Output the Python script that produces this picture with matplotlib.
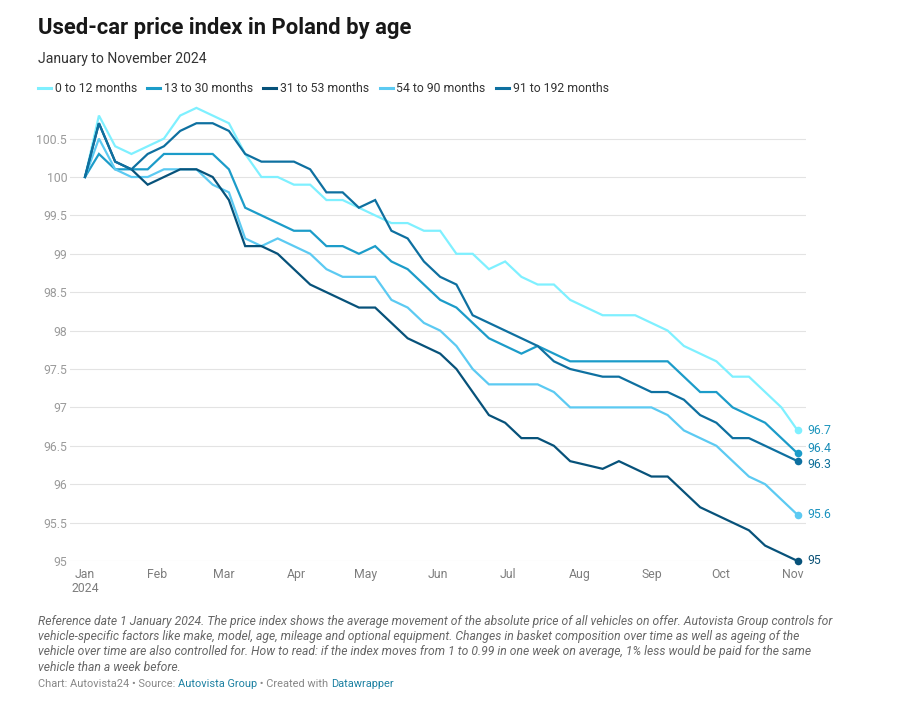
import matplotlib
matplotlib.use("Agg")
import matplotlib.pyplot as plt
import matplotlib.dates as mdates
import pandas as pd
import numpy as np

plt.rcParams['font.family'] = ['Roboto', 'DejaVu Sans']

# ---- data ----
dates = [pd.Timestamp('2024-01-01')] + list(pd.date_range('2024-01-07', '2024-11-03', freq='7D'))

series_names = ["0 to 12 months", "13 to 30 months", "31 to 53 months",
                "54 to 90 months", "91 to 192 months"]

s_0_12 = [100, 100.8, 100.4, 100.3, 100.4, 100.5, 100.8, 100.9, 100.8, 100.7,
          100.3, 100.0, 100.0, 99.9, 99.9, 99.7, 99.7, 99.6, 99.5, 99.4,
          99.4, 99.3, 99.3, 99.0, 99.0, 98.8, 98.9, 98.7, 98.6, 98.6,
          98.4, 98.3, 98.2, 98.2, 98.2, 98.1, 98.0, 97.8, 97.7, 97.6,
          97.4, 97.4, 97.2, 97.0, 96.7]
s_13_30 = [100, 100.3, 100.1, 100.1, 100.1, 100.3, 100.3, 100.3, 100.3, 100.1,
           99.6, 99.5, 99.4, 99.3, 99.3, 99.1, 99.1, 99.0, 99.1, 98.9,
           98.8, 98.6, 98.4, 98.3, 98.1, 97.9, 97.8, 97.7, 97.8, 97.7,
           97.6, 97.6, 97.6, 97.6, 97.6, 97.6, 97.6, 97.4, 97.2, 97.2,
           97.0, 96.9, 96.8, 96.6, 96.4]
s_31_53 = [100, 100.7, 100.2, 100.1, 99.9, 100.0, 100.1, 100.1, 100.0, 99.7,
           99.1, 99.1, 99.0, 98.8, 98.6, 98.5, 98.4, 98.3, 98.3, 98.1,
           97.9, 97.8, 97.7, 97.5, 97.2, 96.9, 96.8, 96.6, 96.6, 96.5,
           96.3, 96.25, 96.2, 96.3, 96.2, 96.1, 96.1, 95.9, 95.7, 95.6,
           95.5, 95.4, 95.2, 95.1, 95.0]
s_54_90 = [100, 100.5, 100.1, 100.0, 100.0, 100.1, 100.1, 100.1, 99.9, 99.8,
           99.2, 99.1, 99.2, 99.1, 99.0, 98.8, 98.7, 98.7, 98.7, 98.4,
           98.3, 98.1, 98.0, 97.8, 97.5, 97.3, 97.3, 97.3, 97.3, 97.2,
           97.0, 97.0, 97.0, 97.0, 97.0, 97.0, 96.9, 96.7, 96.6, 96.5,
           96.3, 96.1, 96.0, 95.8, 95.6]
s_91_192 = [100, 100.7, 100.2, 100.1, 100.3, 100.4, 100.6, 100.7, 100.7, 100.6,
            100.3, 100.2, 100.2, 100.2, 100.1, 99.8, 99.8, 99.6, 99.7, 99.3,
            99.2, 98.9, 98.7, 98.6, 98.2, 98.1, 98.0, 97.9, 97.8, 97.6,
            97.5, 97.45, 97.4, 97.4, 97.3, 97.2, 97.2, 97.1, 96.9, 96.8,
            96.6, 96.6, 96.5, 96.4, 96.3]

series_values = [s_0_12, s_13_30, s_31_53, s_54_90, s_91_192]

month_ticks = pd.date_range('2024-01-01', '2024-11-01', freq='MS')
month_labels = ["Jan\n2024", "Feb", "Mar", "Apr", "May", "Jun", "Jul", "Aug", "Sep", "Oct", "Nov"]
y_ticks = [95, 95.5, 96, 96.5, 97, 97.5, 98, 98.5, 99, 99.5, 100, 100.5]

# ---- style ----
colors = ["#7ff0ff", "#1c9cc9", "#07527a", "#5ccaf2", "#0e70a0"]
label_colors = ["#1e96bd", "#1a8db8", "#0a5176", "#1c93bf", "#0e6f99"]
label_dy = [0, -5, 0, 0, 3]   # px nudges to avoid overlap
z_order = [2, 3, 5, 4, 6]

W, H = 908, 708
fig = plt.figure(figsize=(W / 100, H / 100), dpi=100)

def fx(px):
    return px / W

def fy(py):
    return 1 - py / H

ax_left, ax_right, ax_bottom, ax_top = 70, 806, 561, 104
ax = fig.add_axes([fx(ax_left), fy(ax_bottom), (ax_right - ax_left) / W, (ax_bottom - ax_top) / H])

x0 = mdates.date2num(pd.Timestamp('2024-01-01'))
px_per_day = (793 - 85) / 305.0
ax.set_xlim(x0 - (85 - ax_left) / px_per_day, x0 + (ax_right - 85) / px_per_day)
ymin = 95
ppu = (561 - 177) / 5.0
ax.set_ylim(ymin, ymin + (ax_bottom - ax_top) / ppu)

xnum = mdates.date2num(dates)
for vals, c, z, lc, dy in zip(series_values, colors, z_order, label_colors, label_dy):
    ax.plot(xnum, vals, color=c, lw=1.6, zorder=z, solid_joinstyle='miter', clip_on=False)
    ax.scatter([xnum[-1]], [vals[-1]], s=30, color=c, zorder=z + 10, clip_on=False, linewidths=0)
    ax.annotate("%g" % vals[-1], (xnum[-1], vals[-1]), xytext=(7, -dy * 0.72), textcoords='offset points',
                ha='left', va='center', fontsize=8.8, color=lc, annotation_clip=False)

for spine in ax.spines.values():
    spine.set_visible(False)

ax.set_yticks(y_ticks)
ax.set_yticklabels([("%g" % v) for v in y_ticks])
ax.tick_params(axis='y', length=0, pad=2, labelsize=8.8, labelcolor="#9a9a9a")
ax.grid(axis='y', color="#e3e3e3", lw=0.8, zorder=0)
ax.set_axisbelow(True)

ax.set_xticks(mdates.date2num(month_ticks))
ax.set_xticklabels(month_labels, linespacing=1.1)
ax.tick_params(axis='x', length=0, pad=5, labelsize=8.8, labelcolor="#7d7d7d")

# ---- titles ----
fig.text(fx(38), fy(28), "Used-car price index in Poland by age", fontsize=15.8,
         fontweight='bold', color="#181818", va='center', ha='left')
fig.text(fx(38), fy(59), "January to November 2024", fontsize=10.1,
         color="#333333", va='center', ha='left')

# ---- legend ----
fig.canvas.draw()
renderer = fig.canvas.get_renderer()
lx = 38
ly = 88
for name, c in zip(series_names, colors):
    fig.add_artist(plt.Line2D([fx(lx), fx(lx + 13)], [fy(ly), fy(ly)], color=c, lw=2.2,
                              transform=fig.transFigure))
    t = fig.text(fx(lx + 17), fy(ly), name, fontsize=8.8, color="#333333", va='center', ha='left')
    bb = t.get_window_extent(renderer)
    lx = bb.x1 + 10

# ---- notes ----
note = ("Reference date 1 January 2024. The price index shows the average movement of the absolute price of all vehicles on offer. Autovista Group controls for\n"
        "vehicle-specific factors like make, model, age, mileage and optional equipment. Changes in basket composition over time as well as ageing of the\n"
        "vehicle over time are also controlled for. How to read: if the index moves from 1 to 0.99 in one week on average, 1% less would be paid for the same\n"
        "vehicle than a week before.")
fig.text(fx(38), fy(615), note, fontsize=8.7, style='italic', color="#666666",
         va='top', ha='left', linespacing=1.22)

parts = [("Chart: Autovista24 • Source: ", "#888888"), ("Autovista Group", "#1d81a2"),
         (" • Created with ", "#888888"), ("Datawrapper", "#1d81a2")]
fx_px = 38
for txt, c in parts:
    t = fig.text(fx(fx_px), fy(684), txt, fontsize=7.9, color=c, va='center', ha='left')
    bb = t.get_window_extent(renderer)
    fx_px = bb.x1

fig.savefig("out.png", dpi=100)
